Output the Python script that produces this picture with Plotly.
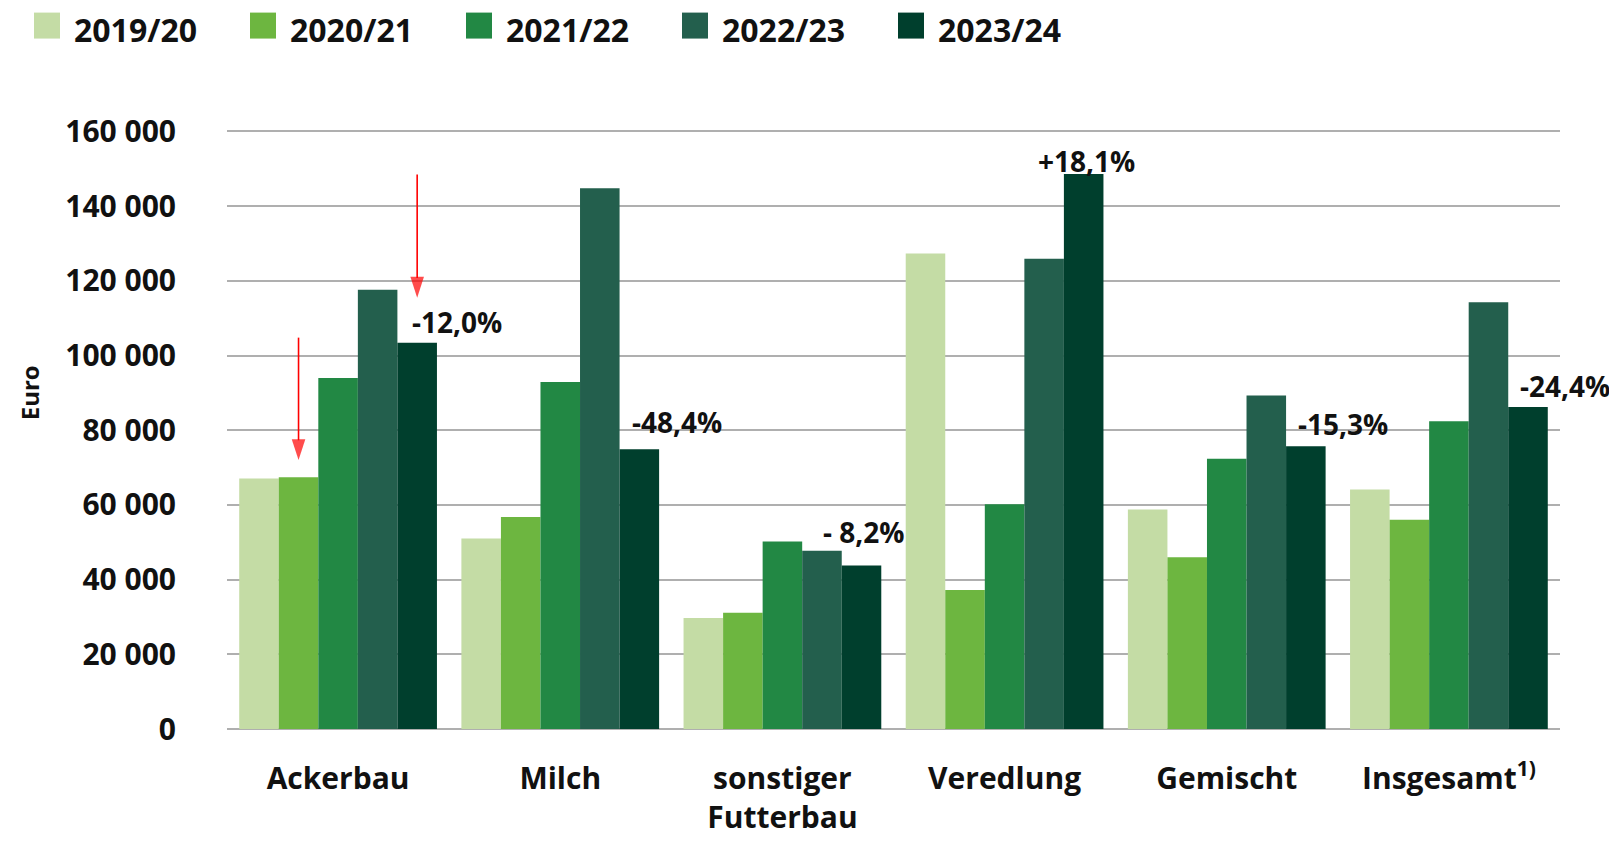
import plotly.graph_objects as go

categories = ["Ackerbau", "Milch", "sonstiger<br>Futterbau", "Veredlung", "Gemischt", "Insgesamt<sup>1)</sup>"]
series_names = ["2019/20", "2020/21", "2021/22", "2022/23", "2023/24"]
v2019_20 = [67100, 51000, 29700, 127300, 58800, 64100]
v2020_21 = [67400, 56800, 31100, 37200, 46000, 56000]
v2021_22 = [94000, 92900, 50200, 60200, 72400, 82400]
v2022_23 = [117600, 144800, 47700, 125900, 89300, 114300]
v2023_24 = [103400, 74900, 43800, 148600, 75700, 86200]
series_values = [v2019_20, v2020_21, v2021_22, v2022_23, v2023_24]
change_labels = ["-12,0%", "-48,4%", "- 8,2%", "+18,1%", "-15,3%", "-24,4%"]
y_ticks = [0, 20000, 40000, 60000, 80000, 100000, 120000, 140000, 160000]

# red arrows: category index, series index, tail value, tip value
arrow_cat = [0, 0]
arrow_series = [1, 4]
arrow_tail = [104800, 148500]
arrow_tip = [72000, 115500]

colors = ["#C4DCA5", "#6DB640", "#228844", "#235F4D", "#003F2D"]
FONT = "Open Sans"
TXT = "#111111"

# page geometry (pixels); the html body adds an 8px margin, compensate for it
OFF = 8
PAGE_W, PAGE_H = 1617, 844
PLOT_L, PLOT_R, PLOT_T, PLOT_B = 227, 1560, 131, 729
Y_MAX = 160000
Y_TOP = 160400  # tiny headroom so the top gridline is drawn
W, H = PAGE_W - 2 * OFF, PAGE_H - 2 * OFF
PW = PLOT_R - PLOT_L
PH_160 = PLOT_B - PLOT_T
PH = PH_160 * Y_TOP / Y_MAX
L = PLOT_L - OFF
T = PLOT_B - PH - OFF
R = W - (PLOT_R - OFF)
B = H - (PLOT_B - OFF)

BARGAP = 0.11
bar_w = (1 - BARGAP) / len(series_names)
X_RANGE = [-0.5, len(categories) - 0.5]


def px_x(px):
    return (px - PLOT_L) / PW


def px_y(py):
    return (PLOT_B - py) / PH


fig = go.Figure()
for name, vals, col in zip(series_names, series_values, colors):
    fig.add_trace(go.Bar(name=name, x=categories, y=vals, marker=dict(color=col, line=dict(width=0)),
                         showlegend=False, hoverinfo="x+y"))

# red arrows drawn on an overlaying numeric x-axis aligned with the category slots
for c, s, tail, tip in zip(arrow_cat, arrow_series, arrow_tail, arrow_tip):
    xpos = c + (s - 2) * bar_w
    fig.add_trace(go.Scatter(
        x=[xpos, xpos], y=[tail, tip], xaxis="x2", yaxis="y", mode="lines+markers",
        line=dict(color="#FF0000", width=1.6),
        marker=dict(symbol="arrow", angleref="previous", size=[0, 22], color="#FF0000",
                    line=dict(width=0)),
        showlegend=False, hoverinfo="skip"))

annotations = []
# change labels above the 2023/24 bars
label_xshift = [-7, -9, -41, 3, -10, -10]
label_yshift = [21, 27, 33, 13, 22, 21]
label_anchor = ["left", "left", "left", "center", "left", "left"]
for i, lab in enumerate(change_labels):
    annotations.append(dict(
        x=i + 2 * bar_w, y=v2023_24[i], xref="x2", yref="y", text=lab, showarrow=False,
        xanchor=label_anchor[i], yanchor="middle", xshift=label_xshift[i], yshift=label_yshift[i],
        font=dict(family=FONT, size=28, color=TXT, weight="bold")))

# y-axis title
annotations.append(dict(
    x=px_x(29), y=px_y(392), xref="paper", yref="paper", text="Euro",
    textangle=-90, showarrow=False, xanchor="center", yanchor="middle",
    font=dict(family=FONT, size=24, color=TXT, weight="bold")))

# custom legend
shapes = []
for i, (name, col) in enumerate(zip(series_names, colors)):
    x0 = 34 + 216 * i
    shapes.append(dict(type="rect", xref="paper", yref="paper",
                       x0=px_x(x0), x1=px_x(x0 + 26),
                       y0=px_y(38), y1=px_y(12),
                       fillcolor=col, line=dict(width=0)))
    annotations.append(dict(
        x=px_x(x0 + 38), y=px_y(29), xref="paper", yref="paper", text=name,
        showarrow=False, xanchor="left", yanchor="middle",
        font=dict(family=FONT, size=32, color=TXT, weight="bold")))

fig.update_layout(
    width=W, height=H,
    margin=dict(l=L, r=R, t=T, b=B, pad=0, autoexpand=False),
    barmode="group", bargap=BARGAP, bargroupgap=0,
    plot_bgcolor="white", paper_bgcolor="white",
    separators=", ",
    annotations=annotations, shapes=shapes,
    showlegend=False,
    font=dict(family=FONT, color=TXT),
    xaxis=dict(
        range=X_RANGE, autorange=False,
        showgrid=False, showline=False, ticks="", ticklabelstandoff=29,
        tickfont=dict(family=FONT, size=30, color=TXT, weight="bold"),
    ),
    xaxis2=dict(overlaying="x", range=X_RANGE, autorange=False, visible=False),
)
fig.update_yaxes(
    range=[0, Y_TOP], autorange=False, tickvals=y_ticks, tickformat=",d",
    showgrid=True, gridcolor="#AFAFAF", gridwidth=2,
    zeroline=True, zerolinecolor="#AFAFAF", zerolinewidth=2,
    showline=False, ticks="", ticklabelstandoff=50,
    tickfont=dict(family=FONT, size=30, color=TXT, weight="bold"),
)

fig.write_html("out.html")
